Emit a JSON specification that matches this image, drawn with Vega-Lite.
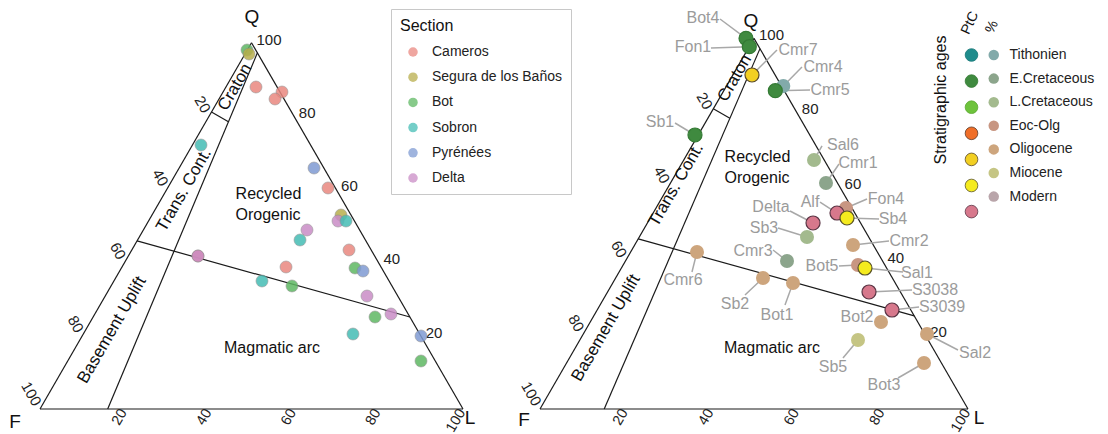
{
  "$schema": "https://vega.github.io/schema/vega-lite/v6.json",
  "width": 1108,
  "height": 434,
  "autosize": "none",
  "padding": 0,
  "config": {"view": {"stroke": null}, "font": "Liberation Sans", "text": {"font": "Liberation Sans"}},
  "datasets": {
    "frame": [
      {"panel": "L", "x": 0, "y": 0, "x2": 100, "y2": 0},
      {"panel": "L", "x": 100, "y": 0, "x2": 50, "y2": 86.6},
      {"panel": "L", "x": 50, "y": 86.6, "x2": 0, "y2": 0},
      {"panel": "L", "x": 51.4, "y": 84.2, "x2": 16, "y2": 0},
      {"panel": "L", "x": 40.54, "y": 70.21, "x2": 44.55, "y2": 67.9},
      {"panel": "L", "x": 22.95, "y": 39.75, "x2": 87.44, "y2": 21.75},
      {"panel": "R", "x": 0, "y": 0, "x2": 100, "y2": 0},
      {"panel": "R", "x": 100, "y": 0, "x2": 50, "y2": 86.6},
      {"panel": "R", "x": 50, "y": 86.6, "x2": 0, "y2": 0},
      {"panel": "R", "x": 51.4, "y": 84.2, "x2": 15, "y2": 0},
      {"panel": "R", "x": 40.5, "y": 70.15, "x2": 44.36, "y2": 67.92},
      {"panel": "R", "x": 22.95, "y": 39.75, "x2": 87.44, "y2": 21.75}
    ],
    "ticks": [
      {"edge": "QL", "t": "100", "x": 50, "y": 86.6},
      {"edge": "QL", "t": "80", "x": 60, "y": 69.28},
      {"edge": "QL", "t": "60", "x": 70, "y": 51.96},
      {"edge": "QL", "t": "40", "x": 80, "y": 34.64},
      {"edge": "QL", "t": "20", "x": 90, "y": 17.32},
      {"edge": "FQ", "t": "20", "x": 40, "y": 69.28},
      {"edge": "FQ", "t": "40", "x": 30, "y": 51.96},
      {"edge": "FQ", "t": "60", "x": 20, "y": 34.64},
      {"edge": "FQ", "t": "80", "x": 10, "y": 17.32},
      {"edge": "FQ", "t": "100", "x": 0, "y": 0},
      {"edge": "FL", "t": "20", "x": 20, "y": 0},
      {"edge": "FL", "t": "40", "x": 40, "y": 0},
      {"edge": "FL", "t": "60", "x": 60, "y": 0},
      {"edge": "FL", "t": "80", "x": 80, "y": 0},
      {"edge": "FL", "t": "100", "x": 100, "y": 0}
    ],
    "notes": [
      {"panel": "L", "kind": "h", "t": "Recycled", "x": 54.02, "y": 50.83},
      {"panel": "L", "kind": "h", "t": "Orogenic", "x": 53.9, "y": 45.86},
      {"panel": "L", "kind": "h", "t": "Magmatic arc", "x": 54.85, "y": 14.42},
      {"panel": "L", "kind": "band", "t": "Craton", "x": 46.1, "y": 76.1},
      {"panel": "L", "kind": "band", "t": "Trans. Cont.", "x": 34.04, "y": 51.77},
      {"panel": "L", "kind": "band", "t": "Basement Uplift", "x": 17.02, "y": 18.68},
      {"panel": "L", "kind": "corner", "t": "Q", "x": 50.12, "y": 92.67},
      {"panel": "L", "kind": "corner", "t": "F", "x": -5.91, "y": -3.07},
      {"panel": "L", "kind": "corner", "t": "L", "x": 101.65, "y": -2.13},
      {"panel": "R", "kind": "h", "t": "Recycled", "x": 50.82, "y": 58.88},
      {"panel": "R", "kind": "h", "t": "Orogenic", "x": 50.7, "y": 53.97},
      {"panel": "R", "kind": "h", "t": "Magmatic arc", "x": 54.21, "y": 14.25},
      {"panel": "R", "kind": "band", "t": "Craton", "x": 45.5, "y": 77.3},
      {"panel": "R", "kind": "band", "t": "Trans. Cont.", "x": 31.78, "y": 52.34},
      {"panel": "R", "kind": "band", "t": "Basement Uplift", "x": 15.42, "y": 18.93},
      {"panel": "R", "kind": "corner", "t": "Q", "x": 49.3, "y": 90.65},
      {"panel": "R", "kind": "corner", "t": "F", "x": -3.74, "y": -2.57},
      {"panel": "R", "kind": "corner", "t": "L", "x": 102.57, "y": -2.1},
      {"panel": "R", "kind": "colhead", "t": "PtC", "x": 100.47, "y": 90.19},
      {"panel": "R", "kind": "colhead", "t": "%", "x": 105.61, "y": 89.25},
      {"panel": "R", "kind": "vtitle", "t": "Stratigraphic ages", "x": 93.69, "y": 72.2}
    ],
    "left": [
      {"section": "Bot", "x": 48.94, "y": 84.87},
      {"section": "Segura de los Baños", "x": 49.41, "y": 83.92},
      {"section": "Cameros", "x": 51.06, "y": 76.12},
      {"section": "Cameros", "x": 57.21, "y": 74.94},
      {"section": "Cameros", "x": 55.56, "y": 73.29},
      {"section": "Sobron", "x": 38.06, "y": 62.41},
      {"section": "Pyrénées", "x": 64.78, "y": 56.97},
      {"section": "Cameros", "x": 68.09, "y": 52.25},
      {"section": "Segura de los Baños", "x": 71.16, "y": 45.86},
      {"section": "Delta", "x": 70.45, "y": 44.44},
      {"section": "Sobron", "x": 72.34, "y": 44.44},
      {"section": "Delta", "x": 63.12, "y": 42.32},
      {"section": "Sobron", "x": 61.47, "y": 39.95},
      {"section": "Cameros", "x": 73.05, "y": 37.59},
      {"section": "Cameros", "x": 37.35, "y": 36.17},
      {"section": "Delta", "x": 37.35, "y": 36.17},
      {"section": "Cameros", "x": 58.16, "y": 33.57},
      {"section": "Bot", "x": 74.47, "y": 33.33},
      {"section": "Pyrénées", "x": 76.36, "y": 32.62},
      {"section": "Sobron", "x": 52.48, "y": 30.26},
      {"section": "Bot", "x": 59.57, "y": 29.08},
      {"section": "Delta", "x": 77.3, "y": 26.71},
      {"section": "Bot", "x": 79.2, "y": 21.75},
      {"section": "Delta", "x": 82.98, "y": 22.46},
      {"section": "Sobron", "x": 73.99, "y": 17.73},
      {"section": "Pyrénées", "x": 90.07, "y": 17.26},
      {"section": "Bot", "x": 90.07, "y": 11.35}
    ],
    "samples": [
      {"sample": "Bot4", "kind": "PtC", "age": "E.Cretaceous", "x": 48.13, "y": 86.61, "lx": 38.08, "ly": 91.36, "sx": 42.06, "sy": 91.12},
      {"sample": "Fon1", "kind": "PtC", "age": "E.Cretaceous", "x": 48.9, "y": 84.65, "lx": 35.75, "ly": 84.58, "sx": 39.95, "sy": 84.35},
      {"sample": "Cmr7", "kind": "PtC", "age": "Oligocene", "x": 49.53, "y": 78.04, "lx": 60.28, "ly": 83.88, "sx": 55.37, "sy": 83.88},
      {"sample": "Cmr4", "kind": "%", "age": "Tithonien", "x": 56.85, "y": 75.47, "lx": 66.12, "ly": 79.91, "sx": 61.21, "sy": 79.91},
      {"sample": "Cmr5", "kind": "PtC", "age": "E.Cretaceous", "x": 54.98, "y": 74.37, "lx": 67.76, "ly": 74.53, "sx": 63.08, "sy": 74.53},
      {"sample": "Sb1", "kind": "PtC", "age": "E.Cretaceous", "x": 36.21, "y": 64.02, "lx": 28.04, "ly": 67.06, "sx": 31.54, "sy": 66.82},
      {"sample": "Sal6", "kind": "%", "age": "L.Cretaceous", "x": 64.02, "y": 58.18, "lx": 70.79, "ly": 61.68, "sx": 65.89, "sy": 61.45},
      {"sample": "Cmr1", "kind": "%", "age": "E.Cretaceous", "x": 66.82, "y": 52.8, "lx": 74.3, "ly": 57.48, "sx": 69.86, "sy": 57.24},
      {"sample": "Fon4", "kind": "%", "age": "Eoc-Olg", "x": 71.5, "y": 46.96, "lx": 80.84, "ly": 49.07, "sx": 76.4, "sy": 49.07},
      {"sample": "Alf", "kind": "PtC", "age": "Modern", "x": 69.39, "y": 45.79, "lx": 63.08, "ly": 48.36, "sx": 65.42, "sy": 48.36},
      {"sample": "Sb4", "kind": "PtC", "age": "Miocene", "x": 71.73, "y": 44.63, "lx": 82.48, "ly": 44.39, "sx": 79.21, "sy": 44.39},
      {"sample": "Delta", "kind": "PtC", "age": "Modern", "x": 63.79, "y": 43.46, "lx": 53.97, "ly": 47.2, "sx": 58.41, "sy": 46.26},
      {"sample": "Sb3", "kind": "%", "age": "L.Cretaceous", "x": 62.38, "y": 40.19, "lx": 52.34, "ly": 42.29, "sx": 55.61, "sy": 42.29},
      {"sample": "Cmr2", "kind": "%", "age": "Oligocene", "x": 73.13, "y": 38.32, "lx": 86.21, "ly": 39.25, "sx": 81.54, "sy": 39.25},
      {"sample": "Cmr3", "kind": "%", "age": "E.Cretaceous", "x": 57.71, "y": 34.58, "lx": 49.77, "ly": 36.92, "sx": 54.44, "sy": 37.15},
      {"sample": "Cmr6", "kind": "%", "age": "Oligocene", "x": 36.68, "y": 36.68, "lx": 33.41, "ly": 30.14, "sx": 35.51, "sy": 32.01},
      {"sample": "Bot5", "kind": "%", "age": "Eoc-Olg", "x": 74.3, "y": 33.64, "lx": 65.89, "ly": 33.41, "sx": 69.86, "sy": 33.41},
      {"sample": "Sal1", "kind": "PtC", "age": "Miocene", "x": 75.93, "y": 32.94, "lx": 88.08, "ly": 31.78, "sx": 84.81, "sy": 32.01},
      {"sample": "Sb2", "kind": "%", "age": "Oligocene", "x": 52.1, "y": 30.61, "lx": 45.56, "ly": 24.53, "sx": 47.9, "sy": 26.64},
      {"sample": "Bot1", "kind": "%", "age": "Oligocene", "x": 59.11, "y": 29.44, "lx": 55.37, "ly": 21.96, "sx": 57.24, "sy": 24.3},
      {"sample": "S3038", "kind": "PtC", "age": "Modern", "x": 76.87, "y": 27.34, "lx": 92.29, "ly": 27.8, "sx": 86.92, "sy": 27.8},
      {"sample": "S3039", "kind": "PtC", "age": "Modern", "x": 82.24, "y": 23.13, "lx": 93.93, "ly": 23.83, "sx": 88.55, "sy": 23.83},
      {"sample": "Bot2", "kind": "%", "age": "Oligocene", "x": 79.67, "y": 20.33, "lx": 74.07, "ly": 21.5, "sx": null, "sy": null},
      {"sample": "Sal2", "kind": "%", "age": "Oligocene", "x": 90.42, "y": 17.52, "lx": 101.64, "ly": 13.08, "sx": 97.66, "sy": 13.79},
      {"sample": "Sb5", "kind": "%", "age": "Miocene", "x": 74.3, "y": 16.12, "lx": 68.46, "ly": 9.81, "sx": 70.79, "sy": 11.92},
      {"sample": "Bot3", "kind": "%", "age": "Oligocene", "x": 89.72, "y": 10.75, "lx": 80.37, "ly": 5.61, "sx": 83.64, "sy": 7.24}
    ]
  },
  "layer": [
    {
      "encoding": {
        "x": {"field": "x", "type": "quantitative", "scale": {"domain": [-9.456, 252.48], "nice": false, "zero": false}, "axis": null},
        "y": {"field": "y", "type": "quantitative", "scale": {"domain": [-5.91, 96.69], "nice": false, "zero": false}, "axis": null}
      },
      "layer": [
        {"data": {"name": "frame"}, "transform": [{"filter": "datum.panel == 'L'"}], "mark": {"type": "rule", "color": "#1a1a1a", "strokeWidth": 1.2}, "encoding": {"x2": {"field": "x2"}, "y2": {"field": "y2"}}},
        {"data": {"name": "ticks"}, "transform": [{"filter": "datum.edge == 'QL'"}], "mark": {"type": "text", "align": "left", "baseline": "middle", "dx": 5, "dy": -3, "fontSize": 15, "color": "#222"}, "encoding": {"text": {"field": "t"}}},
        {"data": {"name": "ticks"}, "transform": [{"filter": "datum.edge == 'FQ'"}], "mark": {"type": "text", "align": "right", "baseline": "middle", "angle": 60, "dx": -5, "fontSize": 15, "color": "#222"}, "encoding": {"text": {"field": "t"}}},
        {"data": {"name": "ticks"}, "transform": [{"filter": "datum.edge == 'FL'"}], "mark": {"type": "text", "align": "right", "baseline": "middle", "angle": 300, "dx": -1.5, "dy": 0, "fontSize": 14.5, "color": "#222"}, "encoding": {"text": {"field": "t"}}},
        {"data": {"name": "notes"}, "transform": [{"filter": "datum.panel == 'L' && datum.kind == 'h'"}], "mark": {"type": "text", "align": "center", "baseline": "middle", "fontSize": 16, "color": "#111"}, "encoding": {"text": {"field": "t"}}},
        {"data": {"name": "notes"}, "transform": [{"filter": "datum.panel == 'L' && datum.kind == 'band'"}], "mark": {"type": "text", "align": "center", "baseline": "middle", "angle": 300, "fontSize": 17, "color": "#111"}, "encoding": {"text": {"field": "t"}}},
        {"data": {"name": "notes"}, "transform": [{"filter": "datum.panel == 'L' && datum.kind == 'corner'"}], "mark": {"type": "text", "align": "center", "baseline": "middle", "fontSize": 19, "color": "#111"}, "encoding": {"text": {"field": "t"}}},
        {"data": {"name": "left"}, "mark": {"type": "point", "filled": true, "size": 144, "opacity": 0.85, "stroke": "#8a8a8a", "strokeWidth": 0.6},
          "encoding": {"color": {"field": "section", "type": "nominal",
            "scale": {"domain": ["Cameros", "Segura de los Baños", "Bot", "Sobron", "Pyrénées", "Delta"], "range": ["#e98880", "#b8ae4c", "#5fb863", "#45bdb5", "#7f9bd3", "#c98cc6"]},
            "legend": {"title": "Section", "orient": "none", "legendX": 391, "legendY": 9, "padding": 9, "strokeColor": "#c8c8c8", "fillColor": "#ffffff", "titleFontSize": 16, "titleFontWeight": "normal", "titleColor": "#111", "titleFont": "Liberation Sans", "titlePadding": 11, "labelFont": "Liberation Sans", "labelFontSize": 14, "labelColor": "#222", "symbolType": "circle", "symbolSize": 90, "symbolStrokeWidth": 0, "symbolOpacity": 0.75, "symbolOffset": 6, "labelOffset": 12, "rowPadding": 11.2}}}}
      ]
    },
    {
      "encoding": {
        "x": {"field": "x", "type": "quantitative", "scale": {"domain": [-126.17, 132.71], "nice": false, "zero": false}, "axis": null},
        "y": {"field": "y", "type": "quantitative", "scale": {"domain": [-5.84, 95.56], "nice": false, "zero": false}, "axis": null}
      },
      "layer": [
        {"data": {"name": "frame"}, "transform": [{"filter": "datum.panel == 'R'"}], "mark": {"type": "rule", "color": "#1a1a1a", "strokeWidth": 1.2}, "encoding": {"x2": {"field": "x2"}, "y2": {"field": "y2"}}},
        {"data": {"name": "ticks"}, "transform": [{"filter": "datum.edge == 'QL'"}], "mark": {"type": "text", "align": "left", "baseline": "middle", "dx": 5, "dy": -3, "fontSize": 15, "color": "#222"}, "encoding": {"text": {"field": "t"}}},
        {"data": {"name": "ticks"}, "transform": [{"filter": "datum.edge == 'FQ'"}], "mark": {"type": "text", "align": "right", "baseline": "middle", "angle": 60, "dx": -5, "fontSize": 15, "color": "#222"}, "encoding": {"text": {"field": "t"}}},
        {"data": {"name": "ticks"}, "transform": [{"filter": "datum.edge == 'FL'"}], "mark": {"type": "text", "align": "right", "baseline": "middle", "angle": 300, "dx": -1.5, "dy": 0, "fontSize": 14.5, "color": "#222"}, "encoding": {"text": {"field": "t"}}},
        {"data": {"name": "notes"}, "transform": [{"filter": "datum.panel == 'R' && datum.kind == 'h'"}], "mark": {"type": "text", "align": "center", "baseline": "middle", "fontSize": 16, "color": "#111"}, "encoding": {"text": {"field": "t"}}},
        {"data": {"name": "notes"}, "transform": [{"filter": "datum.panel == 'R' && datum.kind == 'band'"}], "mark": {"type": "text", "align": "center", "baseline": "middle", "angle": 300, "fontSize": 17, "color": "#111"}, "encoding": {"text": {"field": "t"}}},
        {"data": {"name": "notes"}, "transform": [{"filter": "datum.panel == 'R' && datum.kind == 'corner'"}], "mark": {"type": "text", "align": "center", "baseline": "middle", "fontSize": 19, "color": "#111"}, "encoding": {"text": {"field": "t"}}},
        {"data": {"name": "notes"}, "transform": [{"filter": "datum.panel == 'R' && datum.kind == 'colhead'"}], "mark": {"type": "text", "align": "center", "baseline": "middle", "angle": 295, "fontSize": 14, "color": "#111"}, "encoding": {"text": {"field": "t"}}},
        {"data": {"name": "notes"}, "transform": [{"filter": "datum.panel == 'R' && datum.kind == 'vtitle'"}], "mark": {"type": "text", "align": "center", "baseline": "middle", "angle": 270, "fontSize": 16, "color": "#111"}, "encoding": {"text": {"field": "t"}}},
        {"data": {"name": "samples"}, "transform": [{"filter": "datum.sx != null"}], "mark": {"type": "rule", "color": "#a8a8a8", "strokeWidth": 1.5},
          "encoding": {
            "x": {"field": "sx", "type": "quantitative", "scale": {"domain": [-126.17, 132.71], "nice": false, "zero": false}, "axis": null},
            "y": {"field": "sy", "type": "quantitative", "scale": {"domain": [-5.84, 95.56], "nice": false, "zero": false}, "axis": null},
            "x2": {"field": "x"}, "y2": {"field": "y"}}},
        {"data": {"name": "samples"}, "transform": [{"filter": "datum.kind == '%'"}], "mark": {"type": "point", "filled": true, "size": 196, "opacity": 1},
          "encoding": {"color": {"field": "age", "type": "nominal",
            "scale": {"domain": ["Tithonien", "E.Cretaceous", "L.Cretaceous", "Eoc-Olg", "Oligocene", "Miocene", "Modern"], "range": ["#82aaaa", "#8ca58c", "#a3ba8e", "#c89682", "#cda57d", "#c5c584", "#b9a5aa"]},
            "legend": {"title": null, "orient": "none", "legendX": 986.75, "legendY": 48, "padding": 0, "labelFont": "Liberation Sans", "labelFontSize": 14, "labelColor": "#222", "symbolType": "circle", "symbolSize": 110, "symbolStrokeWidth": 0, "symbolOpacity": 1, "labelOffset": 8.75, "rowPadding": 9.6}}}},
        {"data": {"name": "samples"}, "transform": [{"filter": "datum.kind == 'PtC'"}], "mark": {"type": "point", "filled": true, "size": 196, "opacity": 1, "strokeWidth": 1.2},
          "encoding": {
            "fill": {"field": "age", "type": "nominal",
              "scale": {"domain": ["Tithonien", "E.Cretaceous", "L.Cretaceous", "Eoc-Olg", "Oligocene", "Miocene", "Modern"], "range": ["#1f8c8c", "#3f8a3f", "#6ec33c", "#f06e28", "#f2cf22", "#f5eb1e", "#d7788c"]},
              "legend": {"title": null, "orient": "none", "legendX": 964.5, "legendY": 48, "padding": 0, "labelFont": "Liberation Sans", "labelFontSize": 1, "labelOpacity": 0, "labelOffset": 1, "labelLimit": 2, "symbolType": "circle", "symbolSize": 160, "symbolStrokeColor": "#555555", "symbolStrokeWidth": 0.8, "symbolOpacity": 1, "rowPadding": 10.1}},
            "stroke": {"field": "age", "type": "nominal",
              "scale": {"domain": ["Tithonien", "E.Cretaceous", "L.Cretaceous", "Eoc-Olg", "Oligocene", "Miocene", "Modern"], "range": ["#1a7878", "#347a34", "#5ca832", "#5a3a2a", "#5a4a2a", "#5a5428", "#5a3444"]},
              "legend": null}}},
        {"data": {"name": "samples"}, "mark": {"type": "text", "align": "center", "baseline": "middle", "fontSize": 16, "color": "#9b9b9b"},
          "encoding": {
            "x": {"field": "lx", "type": "quantitative", "scale": {"domain": [-126.17, 132.71], "nice": false, "zero": false}, "axis": null},
            "y": {"field": "ly", "type": "quantitative", "scale": {"domain": [-5.84, 95.56], "nice": false, "zero": false}, "axis": null},
            "text": {"field": "sample"}}}
      ]
    }
  ],
  "resolve": {"scale": {"x": "independent", "y": "independent", "color": "independent"}, "legend": {"color": "independent"}}
}
